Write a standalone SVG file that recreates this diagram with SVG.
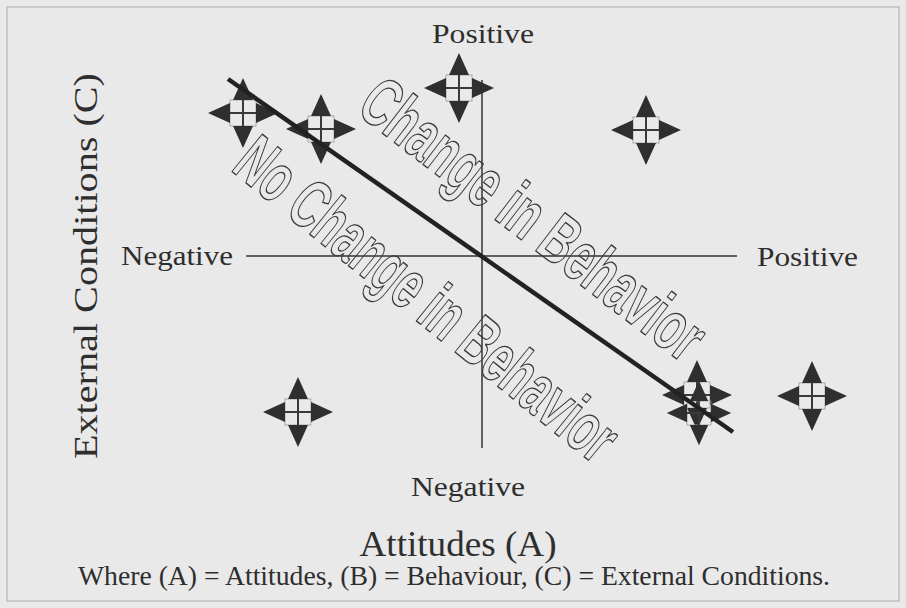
<svg xmlns="http://www.w3.org/2000/svg" xmlns:xlink="http://www.w3.org/1999/xlink" width="906" height="608" viewBox="0 0 906 608">
<style>
.lbl{font-family:"Liberation Serif","Times New Roman",serif;fill:#2e2e2e}
.axis{stroke:#333;stroke-width:1.5;fill:none}
.outline{font-family:"Liberation Sans",Arial,sans-serif;font-size:70px;font-weight:bold;fill:none;stroke:#3a3a3a;stroke-width:1.4;stroke-linejoin:round}
.tri{fill:#2f2f2f}
.shaft{stroke:#3a3a3a;stroke-width:2;fill:none}
.box{stroke:#9a9a9a;stroke-width:0.8;fill:none}
</style>
<defs>
<g id="quad">
<rect class="box" x="-13" y="-13" width="26" height="26"/>
<path class="shaft" d="M-14,0H14M0,-14V14"/>
<polygon class="tri" points="0,-35 -10,-13 10,-13"/>
<polygon class="tri" points="0,35 -10,13 10,13"/>
<polygon class="tri" points="-35,0 -13,-10 -13,10"/>
<polygon class="tri" points="35,0 13,-10 13,10"/>
</g>
</defs>
<rect x="0" y="0" width="906" height="608" fill="#e9e9e9"/>
<rect x="7" y="7" width="892" height="594" fill="none" stroke="#b5b5b5" stroke-width="1.2"/>
<g id="axes">
<line class="axis" x1="246" y1="256" x2="737" y2="256"/>
<line class="axis" x1="482" y1="80" x2="482" y2="448"/>
</g>
<g id="labels">
<text class="lbl" x="483" y="43" font-size="27" text-anchor="middle" textLength="102" lengthAdjust="spacingAndGlyphs">Positive</text>
<text class="lbl" x="121" y="265" font-size="27" textLength="112" lengthAdjust="spacingAndGlyphs">Negative</text>
<text class="lbl" x="757" y="266" font-size="27" textLength="101" lengthAdjust="spacingAndGlyphs">Positive</text>
<text class="lbl" x="468" y="496" font-size="27" text-anchor="middle" textLength="114" lengthAdjust="spacingAndGlyphs">Negative</text>
<text class="lbl" transform="translate(97,266) rotate(-90)" x="0" y="0" font-size="33" text-anchor="middle" textLength="386" lengthAdjust="spacingAndGlyphs">External Conditions (C)</text>
<text class="lbl" x="458" y="556" font-size="35" text-anchor="middle" textLength="197" lengthAdjust="spacingAndGlyphs">Attitudes (A)</text>
<text class="lbl" x="454" y="585" font-size="27" text-anchor="middle" textLength="752" lengthAdjust="spacingAndGlyphs">Where (A) = Attitudes, (B) = Behaviour, (C) = External Conditions.</text>
</g>
<g id="node-q1"><use xlink:href="#quad" href="#quad" transform="translate(243,113)"/></g>
<g id="node-q2"><use xlink:href="#quad" href="#quad" transform="translate(321,129)"/></g>
<g id="node-q3"><use xlink:href="#quad" href="#quad" transform="translate(459,88)"/></g>
<g id="node-q4"><use xlink:href="#quad" href="#quad" transform="translate(646,130)"/></g>
<g id="node-q5"><use xlink:href="#quad" href="#quad" transform="translate(298,412)"/></g>
<g id="node-q6"><use xlink:href="#quad" href="#quad" transform="translate(812,396)"/></g>
<g id="node-q7"><use xlink:href="#quad" href="#quad" transform="translate(697,395)"/></g>
<g id="node-q8"><use xlink:href="#quad" href="#quad" transform="translate(699,413) scale(0.92)"/></g>
<g id="connectors">
<line x1="228" y1="79" x2="733" y2="432" stroke="#222" stroke-width="4.5" stroke-linecap="butt"/>
</g>
<g id="wordart">
<text class="outline" transform="translate(534,218) rotate(37.5) scale(0.63,1)" x="0" y="25" text-anchor="middle">Change in Behavior</text>
<text class="outline" transform="translate(428,298) rotate(39) scale(0.61,1)" x="0" y="25" text-anchor="middle">No Change in Behavior</text>
</g>
</svg>
